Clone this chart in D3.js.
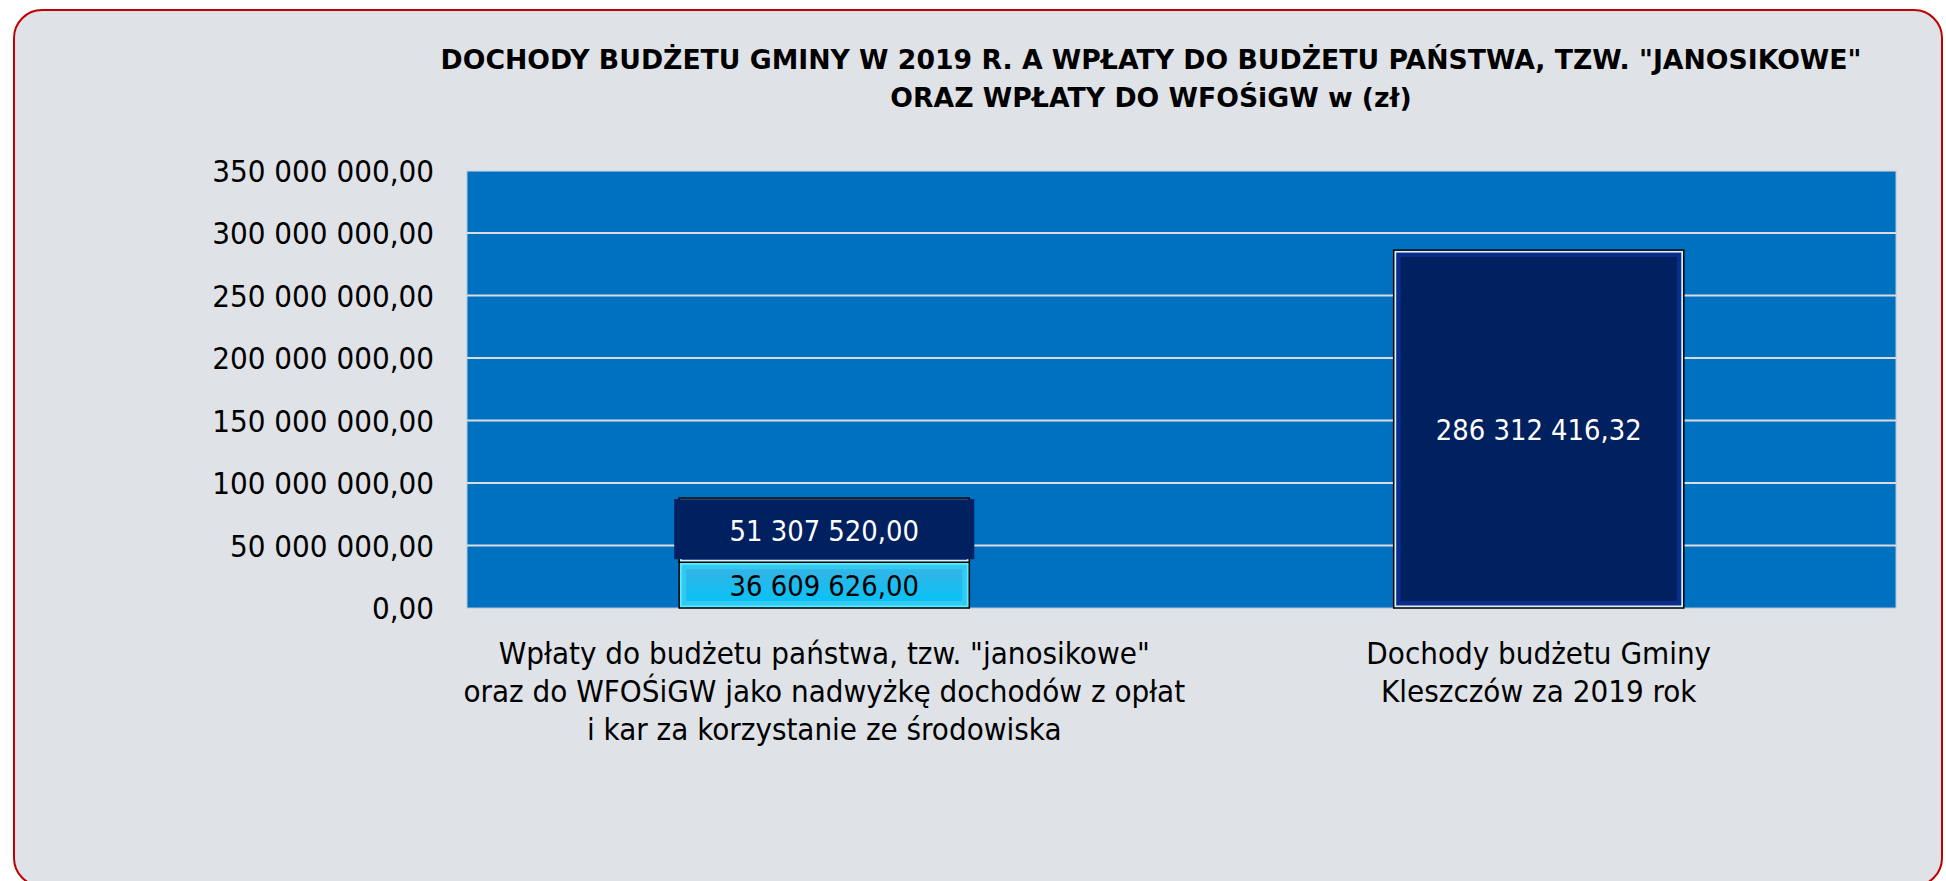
<!DOCTYPE html>
<html>
<head>
<meta charset="utf-8">
<script src="https://cdn.jsdelivr.net/npm/d3@7"></script>
<style>
  body { margin: 0; background: #fff; }
  text { font-family: "DejaVu Sans Condensed", "DejaVu Sans", sans-serif; font-stretch: condensed; }
  .title { font-family: "DejaVu Sans", sans-serif; font-stretch: normal; font-size: 26.7px; font-weight: bold; fill: #000; text-anchor: middle; }
  .ytick { font-size: 31px; fill: #000; text-anchor: end; }
  .xlabel { font-size: 31px; fill: #000; text-anchor: middle; }
  .value { font-size: 28.8px; text-anchor: middle; }
</style>
</head>
<body>
<svg id="chart" width="1946" height="881"></svg>
<script>
// chart data
const titleLines = [
  'DOCHODY BUDŻETU GMINY W 2019 R. A WPŁATY DO BUDŻETU PAŃSTWA, TZW. "JANOSIKOWE"',
  'ORAZ WPŁATY DO WFOŚiGW w (zł)'
];
const categories = ["wplaty", "dochody"];
const categoryLabels = [
  ['Wpłaty do budżetu państwa, tzw. "janosikowe"', 'oraz do WFOŚiGW jako nadwyżkę dochodów z opłat', 'i kar za korzystanie ze środowiska'],
  ['Dochody budżetu Gminy', 'Kleszczów za 2019 rok']
];
const seriesKeys = ["cyan", "navy"];
const cyanValues = [36609626.00, 0];
const navyValues = [51307520.00, 286312416.32];
const yTicks = [0, 50000000, 100000000, 150000000, 200000000, 250000000, 300000000, 350000000];

const svg = d3.select("#chart");
const margin = { top: 170.5, right: 50, bottom: 273, left: 467 },
  width = 1946 - margin.left - margin.right,
  height = 881 - margin.top - margin.bottom;

const plLocale = d3.formatLocale({ decimal: ",", thousands: " ", grouping: [3], currency: ["", " zł"] });
const fmt = plLocale.format(",.2f");

// frame
svg.append("rect")
  .attr("x", 14).attr("y", 10)
  .attr("width", 1928).attr("height", 876)
  .attr("rx", 28).attr("ry", 28)
  .attr("fill", "#dfe2e6")
  .attr("stroke", "#c00000")
  .attr("stroke-width", 2);

// title
titleLines.forEach(function (t, i) {
  svg.append("text")
    .attr("class", "title")
    .attr("x", 1151)
    .attr("y", 68.5 + i * 38)
    .text(t);
});

const x = d3.scaleBand()
  .domain(categories)
  .range([margin.left, margin.left + width])
  .paddingInner(0.594)
  .paddingOuter(0.297);

const y = d3.scaleLinear()
  .domain([0, 350000000])
  .range([margin.top + height, margin.top]);

// plot area
svg.append("rect")
  .attr("x", margin.left).attr("y", margin.top)
  .attr("width", width).attr("height", height)
  .attr("fill", "#0070c0")
  .attr("stroke", "#b8c8d8")
  .attr("stroke-width", 1);

// gridlines
svg.append("g")
  .selectAll("line")
  .data(yTicks.slice(1))
  .join("line")
  .attr("x1", margin.left).attr("x2", margin.left + width)
  .attr("y1", d => y(d)).attr("y2", d => y(d))
  .attr("stroke", "#d9dde2")
  .attr("stroke-width", 2);

// y axis labels
svg.append("g")
  .selectAll("text")
  .data(yTicks)
  .join("text")
  .attr("class", "ytick")
  .attr("x", margin.left - 33)
  .attr("y", d => y(d) + 11)
  .text(d => fmt(d));

// stacked bars
const rows = categories.map((c, i) => ({ cat: c, cyan: cyanValues[i], navy: navyValues[i] }));
const stacked = d3.stack().keys(seriesKeys)(rows);

const styles = {
  cyan: { edge: "#4ff0ff", bevel: "#35c8f0", inner: "url(#cyanFill)", text: "#000" },
  navy: { edge: "#d8f0f8", bevel: "#0a2d8c", inner: "#002060", text: "#fff" }
};

const defs = svg.append("defs");
const grad = defs.append("linearGradient").attr("id", "cyanFill")
  .attr("x1", 0).attr("y1", 0).attr("x2", 0).attr("y2", 1);
grad.append("stop").attr("offset", "0%").attr("stop-color", "#33b4e6");
grad.append("stop").attr("offset", "100%").attr("stop-color", "#0ac2f6");

const bw = x.bandwidth();

stacked.forEach(function (s) {
  const st = styles[s.key];
  s.forEach(function (d, i) {
    if (d[1] - d[0] <= 0) return;
    const x0 = x(categories[i]);
    const y0 = y(d[1]);
    const h = y(d[0]) - y(d[1]);
    const g = svg.append("g");
    g.append("rect")
      .attr("x", x0).attr("y", y0).attr("width", bw).attr("height", h)
      .attr("fill", st.edge).attr("stroke", "#000").attr("stroke-width", 1.5);
    g.append("rect")
      .attr("x", x0 + 2.5).attr("y", y0 + 2.5).attr("width", bw - 5).attr("height", h - 5)
      .attr("fill", st.bevel);
    g.append("rect")
      .attr("x", x0 + 7).attr("y", y0 + 7).attr("width", bw - 14).attr("height", h - 14)
      .attr("fill", st.inner);

    const cy = y0 + h / 2;
    // boxed data label on the short navy segment
    if (s.key === "navy" && i === 0) {
      g.append("rect")
        .attr("x", x0 - 5).attr("y", cy - 31)
        .attr("width", bw + 10).attr("height", 60)
        .attr("fill", "#002060");
    }
    g.append("text")
      .attr("class", "value")
      .attr("x", x0 + bw / 2)
      .attr("y", cy + 11)
      .attr("fill", st.text)
      .text(fmt(d.data[s.key]));
  });
});

// category labels
categoryLabels.forEach(function (lines, i) {
  lines.forEach(function (t, j) {
    svg.append("text")
      .attr("class", "xlabel")
      .attr("x", x(categories[i]) + bw / 2)
      .attr("y", 664 + j * 38)
      .text(t);
  });
});
</script>
</body>
</html>
